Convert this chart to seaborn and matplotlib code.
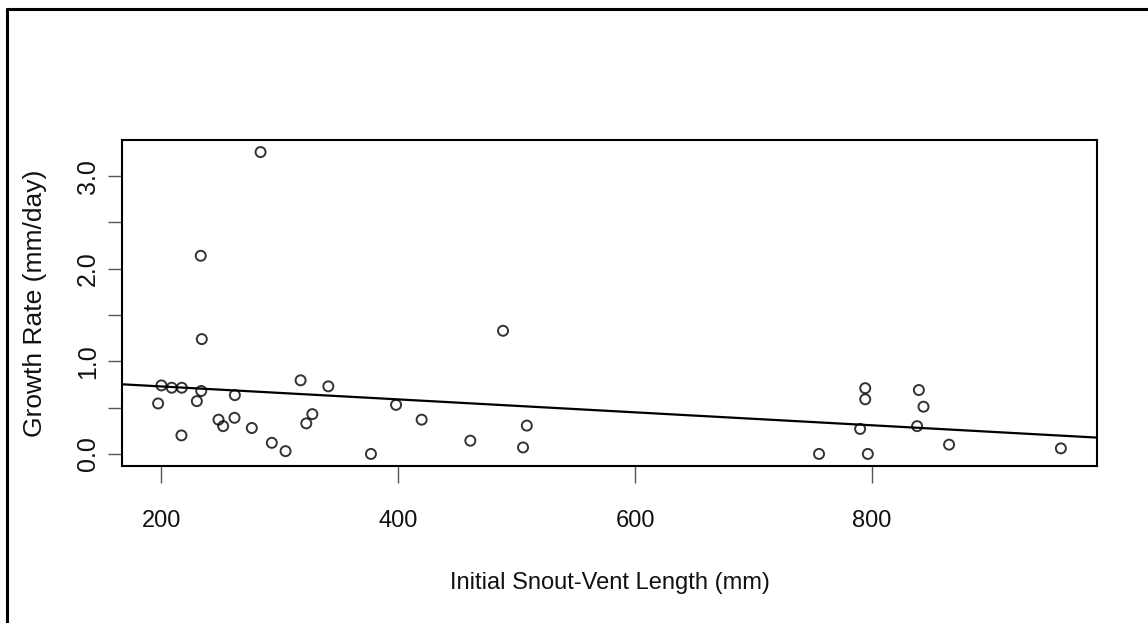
import matplotlib
matplotlib.use("Agg")
import matplotlib.pyplot as plt
import seaborn as sns
import numpy as np
import pandas as pd
from matplotlib.lines import Line2D

svl = [283.7, 233.2, 234.1, 200.0, 208.7, 217.2, 233.6, 229.9, 197.2, 262.0,
       248.2, 252.1, 261.7, 276.3, 216.9, 293.2, 304.8, 317.5, 340.9, 327.4,
       322.3, 376.9, 398.1, 488.4, 419.7, 460.8, 508.5, 505.3, 755.2, 794.2,
       794.2, 789.9, 796.4, 839.5, 843.4, 838.0, 865.0, 959.4]
growth = [3.26, 2.14, 1.24, 0.74, 0.715, 0.715, 0.68, 0.57, 0.545, 0.635,
          0.37, 0.30, 0.39, 0.28, 0.20, 0.12, 0.03, 0.795, 0.73, 0.43,
          0.33, 0.0, 0.53, 1.33, 0.37, 0.143, 0.306, 0.07, 0.0, 0.71,
          0.59, 0.27, 0.0, 0.69, 0.51, 0.30, 0.10, 0.06]
x_ticks = [200, 400, 600, 800]
y_ticks = [0.0, 0.5, 1.0, 1.5, 2.0, 2.5, 3.0]
y_tick_labels = ["0.0", "", "1.0", "", "2.0", "", "3.0"]
x_label = "Initial Snout-Vent Length (mm)"
y_label = "Growth Rate (mm/day)"

df = pd.DataFrame({"svl": svl, "growth": growth})

sns.set_theme(style="white")
plt.rcParams["font.family"] = ["Liberation Sans", "DejaVu Sans"]

fig = plt.figure(figsize=(11.48, 6.23), dpi=100)
ax = fig.add_axes([122 / 1148, 1 - 466 / 623, (1097 - 122) / 1148, (466 - 140) / 623])

# R-style 4% axis expansion
xr = df.svl.max() - df.svl.min()
yr = df.growth.max() - df.growth.min()
xlim = (df.svl.min() - 0.04 * xr, df.svl.max() + 0.04 * xr)
ylim = (df.growth.min() - 0.04 * yr, df.growth.max() + 0.04 * yr)
ax.set_xlim(*xlim)
ax.set_ylim(*ylim)

sns.regplot(data=df, x="svl", y="growth", ax=ax, ci=None, truncate=False,
            scatter_kws=dict(facecolors="none", edgecolors="black", s=52, linewidths=1.4),
            line_kws=dict(color="black", lw=1.6))

ax.set_xlim(*xlim)
ax.set_ylim(*ylim)

ax.set_xticks(x_ticks)
ax.set_xticklabels([str(v) for v in x_ticks])
ax.set_yticks(y_ticks)
ax.set_yticklabels(y_tick_labels, rotation=90, va="center")
ax.tick_params(axis="x", direction="out", length=12, width=1, color="#555555",
               labelsize=17, pad=20, bottom=True, labelcolor="#111111")
ax.tick_params(axis="y", direction="out", length=10, width=1, color="#555555",
               labelsize=18, pad=6, left=True, labelcolor="#111111")
ax.set_xlabel(x_label, fontsize=17, color="#111111", va="center")
ax.xaxis.set_label_coords(0.5, (466 - 583) / 326)
ax.set_ylabel(y_label, fontsize=19, color="#111111", va="center")
ax.yaxis.set_label_coords((35 - 122) / 975, 0.5)
for sp in ax.spines.values():
    sp.set_visible(True)
    sp.set_color("black")
    sp.set_linewidth(1.5)

# outer frame (left and top edges visible)
fig.add_artist(Line2D([6.5 / 1148, 6.5 / 1148], [0, 1 - 9 / 623], transform=fig.transFigure,
                      color="black", lw=2.2))
fig.add_artist(Line2D([6.5 / 1148, 1.0], [1 - 9 / 623, 1 - 9 / 623], transform=fig.transFigure,
                      color="black", lw=2.2))

fig.savefig("out.png", dpi=100, facecolor="white")
